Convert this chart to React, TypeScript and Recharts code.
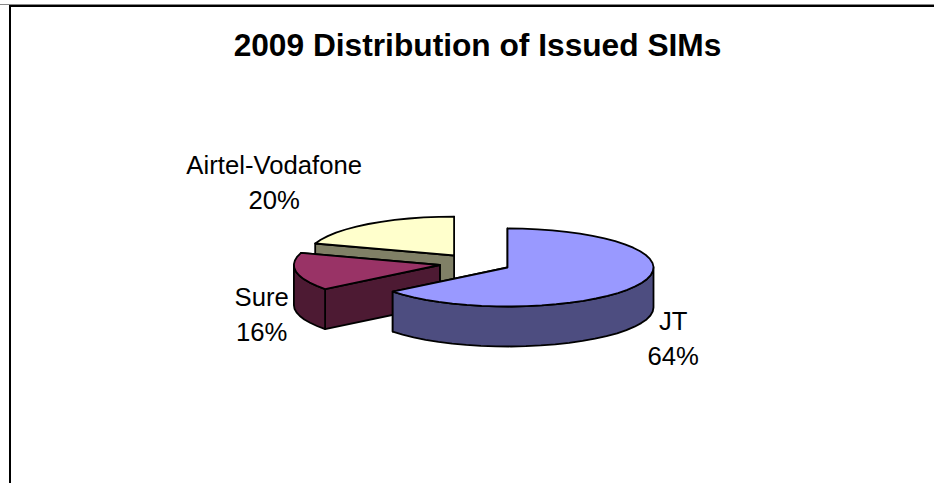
import { PieChart, Pie, Cell } from "recharts";

const CATEGORIES = ["Airtel-Vodafone", "Sure", "JT"];
const SHARES = [20, 15.6, 64.4];
const TOP_COLORS = ["#ffffcc", "#993366", "#9999ff"];
const SIDE_COLORS = ["#808066", "#4d1a33", "#4d4d80"];
const TITLE = "2009 Distribution of Issued SIMs";

const chartData = CATEGORIES.map((name, i) => ({ name, value: SHARES[i] }));

const WIDTH = 934;
const HEIGHT = 483;
const SQUASH = 0.267;
const DEPTH = 40;
const EXPLODE = 35.9;
const FONT = "'Liberation Sans', Arial, sans-serif";

// label anchor relative to the pie centre, one per category
const LABEL_OFFSETS = [
  { dx: -201, dy: -89 },
  { dx: -213.5, dy: 43 },
  { dx: 198, dy: 67 },
];

const RAD = Math.PI / 180;

function Slice3D(props: any) {
  const { cx, cy, outerRadius, startAngle, endAngle, midAngle, index } = props;
  const top = TOP_COLORS[index];
  const side = SIDE_COLORS[index];

  // recharts angles are ccw from 3 o'clock, squash y to get the tilted disc
  const ox = cx + EXPLODE * Math.cos(midAngle * RAD);
  const oy = cy - EXPLODE * SQUASH * Math.sin(midAngle * RAD);
  const pt = (a: number, drop = 0): [number, number] => [
    ox + outerRadius * Math.cos(a * RAD),
    oy - outerRadius * SQUASH * Math.sin(a * RAD) + drop,
  ];
  const toPath = (pts: [number, number][]) =>
    "M" + pts.map((p) => `${p[0].toFixed(1)},${p[1].toFixed(1)}`).join("L") + "Z";

  const arc = (a0: number, a1: number, drop = 0) => {
    const n = Math.max(2, Math.ceil(Math.abs(a1 - a0) / 6));
    const out: [number, number][] = [];
    for (let i = 0; i <= n; i++) out.push(pt(a0 + ((a1 - a0) * i) / n, drop));
    return out;
  };

  const face = (a: number): [number, number][] => [
    [ox, oy],
    pt(a),
    pt(a, DEPTH),
    [ox, oy + DEPTH],
  ];

  // back cut face first
  const cuts = [startAngle, endAngle].sort((a, b) => Math.sin(b * RAD) - Math.sin(a * RAD));

  // only the part of the rim between 180 and 360 faces the viewer
  const rimStart = Math.max(startAngle, 180);
  const rimEnd = Math.min(endAngle, 360);

  const common = { stroke: "#000", strokeWidth: 1.8, strokeLinejoin: "round" as const };

  return (
    <g>
      {cuts.map((a) => (
        <path key={a} d={toPath(face(a))} fill={side} {...common} />
      ))}
      {rimEnd > rimStart && (
        <path
          d={toPath([...arc(rimStart, rimEnd), ...arc(rimEnd, rimStart, DEPTH)])}
          fill={side}
          {...common}
        />
      )}
      <path d={toPath([[ox, oy], ...arc(startAngle, endAngle)])} fill={top} {...common} />
    </g>
  );
}

function SliceLabel(props: any) {
  const { cx, cy, index, percent, name } = props;
  const off = LABEL_OFFSETS[index];
  return (
    <text
      x={cx + off.dx}
      y={cy + off.dy}
      textAnchor="middle"
      fontFamily={FONT}
      fontSize={25.7}
      fill="#000"
    >
      <tspan x={cx + off.dx} dy={0}>
        {name}
      </tspan>
      <tspan x={cx + off.dx} dy={35}>
        {`${Math.round(percent * 100)}%`}
      </tspan>
    </text>
  );
}

export default function App() {
  return (
    <div style={{ position: "absolute", left: 0, top: 0, width: WIDTH, height: HEIGHT, background: "#fff" }}>
      <PieChart width={WIDTH} height={HEIGHT} margin={{ top: 0, right: 0, bottom: 0, left: 0 }}>
        <line x1={0} y1={4.5} x2={WIDTH} y2={4.5} stroke="#888" strokeWidth={1} />
        <line x1={9} y1={6} x2={WIDTH} y2={6} stroke="#000" strokeWidth={2} />
        <line x1={10} y1={5} x2={10} y2={HEIGHT} stroke="#000" strokeWidth={2} />
        <text
          x={477.5}
          y={55.5}
          textAnchor="middle"
          fontFamily={FONT}
          fontWeight="bold"
          fontSize={31.7}
          fill="#000"
        >
          {TITLE}
        </text>
        <Pie
          data={chartData}
          dataKey="value"
          nameKey="name"
          cx={475.2}
          cy={263.3}
          outerRadius={146}
          startAngle={90}
          endAngle={450}
          paddingAngle={0}
          stroke="none"
          shape={Slice3D}
          label={SliceLabel}
          labelLine={false}
          isAnimationActive={false}
        >
          {chartData.map((d, i) => (
            <Cell key={d.name} fill={TOP_COLORS[i]} />
          ))}
        </Pie>
      </PieChart>
    </div>
  );
}
